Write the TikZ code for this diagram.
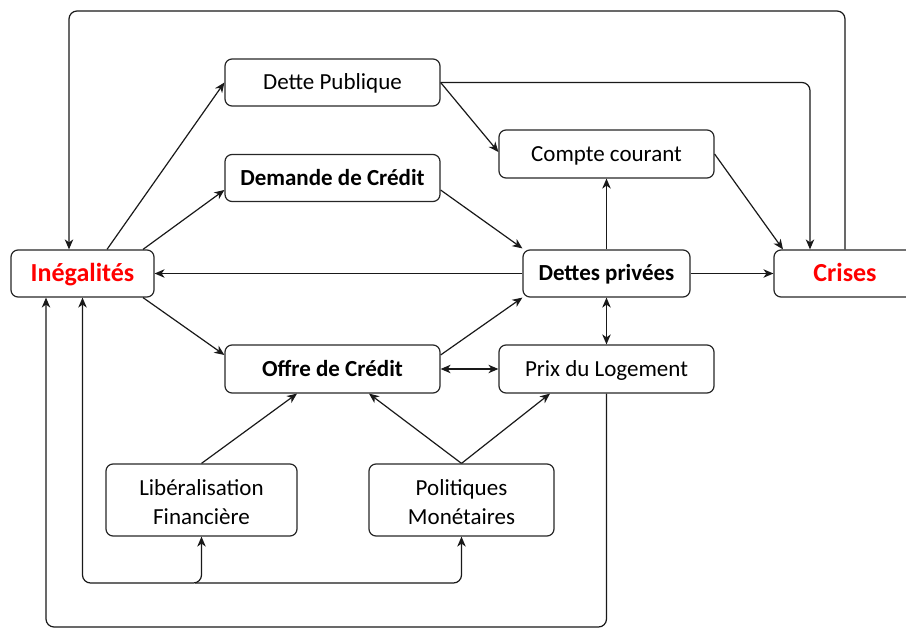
\documentclass[tikz,border=0pt]{standalone}
\usepackage{fontspec}
\setmainfont{Carlito}
\usetikzlibrary{arrows.meta}
\tikzset{
  box/.style={draw=black!85, rounded corners=7pt, line width=1.2pt, inner sep=0pt, align=center,
    font=\fontsize{23}{29}\selectfont, minimum height=47pt},
  onebox/.style={box, text height=20pt, text depth=5pt},
  redbox/.style={box, text height=21.5pt, text depth=5pt, text={rgb,255:red,255;green,0;blue,0}, font=\fontsize{26}{30}\selectfont\bfseries},
  boldtext/.style={font=\fontsize{23}{29}\selectfont\bfseries},
  conn/.style={draw=black!90, line width=1.2pt, -{Stealth[length=10pt,width=8.5pt,inset=3pt]}},
  conn2/.style={draw=black!90, line width=1.2pt, {Stealth[length=10pt,width=8.5pt,inset=3pt]}-{Stealth[length=10pt,width=8.5pt,inset=3pt]}},
}
\newcommand{\twolines}[2]{\raisebox{0pt}[\dimexpr\height+8pt\relax][\depth]{\begin{tabular}{@{}c@{}}#1\\#2\end{tabular}}}
\begin{document}
\begin{tikzpicture}[x=1pt,y=-1pt]
\useasboundingbox (0,0) rectangle (906,628);
% nodes
\node[redbox, minimum width=143pt] (ineg) at (82.5,273.5) {Inégalités};
\node[onebox, minimum width=215pt] (dpub) at (332.5,82.5) {Dette Publique};
\node[onebox, boldtext, minimum width=215pt] (dcred) at (332.5,178) {Demande de Crédit};
\node[onebox, minimum width=215pt, minimum height=48pt] (cc) at (606.5,154) {Compte courant};
\node[onebox, boldtext, minimum width=167pt] (dpriv) at (606.5,273.5) {Dettes privées};
\node[redbox, minimum width=142pt] (crises) at (845,273.5) {Crises};
\node[onebox, boldtext, minimum width=215pt, minimum height=48pt] (offre) at (332.5,369) {Offre de Crédit};
\node[onebox, minimum width=215pt, minimum height=48pt] (prix) at (606.5,369) {Prix du Logement};
\node[box, minimum width=191pt, minimum height=72pt] (lib) at (201.5,500) {\twolines{Libéralisation}{Financière}};
\node[box, minimum width=185pt, minimum height=72pt] (pol) at (461.5,500) {\twolines{Politiques}{Monétaires}};
% helper coordinates
\coordinate (topy) at (0,11);
\coordinate (boty) at (0,627);
\coordinate (midy) at (0,583);
\coordinate (junc) at (195,583);
% connectors
\draw[conn] ([xshift=24.5pt]ineg.north) -- (dpub.west);
\draw[conn] ([xshift=60.5pt]ineg.north) -- ([yshift=-12pt]dcred.west);
\draw[conn] ([xshift=60.5pt]ineg.south) -- ([yshift=14pt]offre.west);
\draw[conn] (dpriv.west) -- (ineg.east);
\draw[conn] (dpub.east) -- ([yshift=2pt]cc.west);
\draw[conn, rounded corners=8pt] (dpub.east) -| ([xshift=-35pt]crises.north);
\draw[conn] (cc.east) -- ([xshift=-62pt]crises.north);
\draw[conn] ([yshift=-12pt]dcred.east) -- ([yshift=1pt]dpriv.north west);
\draw[conn] (dpriv.north) -- (cc.south);
\draw[conn] (dpriv.east) -- (crises.west);
\draw[conn2] (dpriv.south) -- (prix.north);
\draw[conn] ([yshift=14pt]offre.east) -- (dpriv.south west);
\draw[conn2] (offre.east) -- (prix.west);
\draw[conn, rounded corners=8pt] (crises.north) -- (crises.north |- topy) -| ([xshift=-13.5pt]ineg.north);
\draw[conn, rounded corners=8pt] (prix.south) -- (prix.south |- boty) -| ([xshift=-36.5pt]ineg.south);
\draw[conn2, rounded corners=8pt] (ineg.south) -- (ineg.south |- midy) -| (lib.south);
\draw[conn, rounded corners=8pt] (junc) -| (pol.south);
\draw[conn] (lib.north) -- ([xshift=-35.5pt]offre.south);
\draw[conn] (pol.north) -- ([xshift=36.5pt]offre.south);
\draw[conn] (pol.north) -- ([xshift=-56.5pt]prix.south);
\end{tikzpicture}
\end{document}
